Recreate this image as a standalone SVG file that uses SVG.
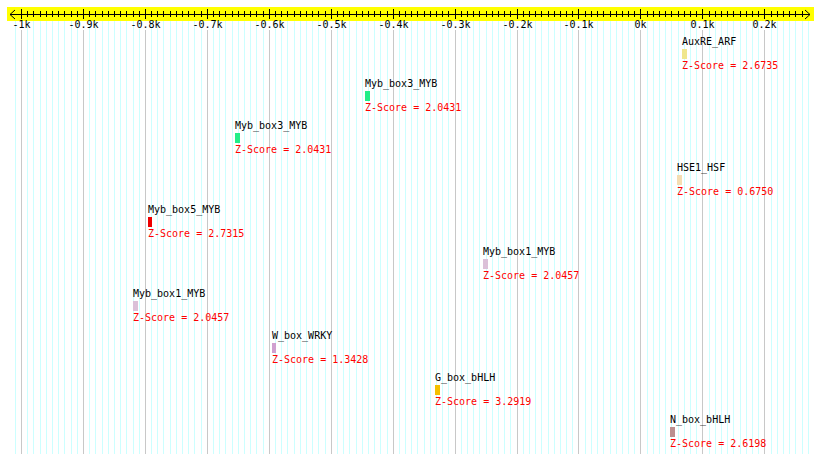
<svg xmlns="http://www.w3.org/2000/svg" width="820" height="463" viewBox="0 0 820 463">
<style>
text{font-family:"DejaVu Sans Mono","Liberation Mono",monospace;font-size:10px}
.name{fill:#000}
.z{fill:#ff0000}
.ax{fill:#000;text-anchor:middle}
.minor{stroke:#ccffff;stroke-width:1;fill:none}
.major{stroke:#c8c8c8;stroke-width:1;fill:none}
.tk{stroke:#000;stroke-width:1;fill:none}
</style>
<rect width="820" height="463" fill="#fff"/>
<g id="grid">
<path class="minor" d="M15.5 21v433M27.5 21v433M33.5 21v433M40.5 21v433M46.5 21v433M52.5 21v433M58.5 21v433M64.5 21v433M71.5 21v433M77.5 21v433M89.5 21v433M95.5 21v433M102.5 21v433M108.5 21v433M114.5 21v433M120.5 21v433M126.5 21v433M133.5 21v433M139.5 21v433M151.5 21v433M157.5 21v433M163.5 21v433M170.5 21v433M176.5 21v433M182.5 21v433M188.5 21v433M194.5 21v433M201.5 21v433M213.5 21v433M219.5 21v433M225.5 21v433M232.5 21v433M238.5 21v433M244.5 21v433M250.5 21v433M256.5 21v433M263.5 21v433M275.5 21v433M281.5 21v433M287.5 21v433M294.5 21v433M300.5 21v433M306.5 21v433M312.5 21v433M318.5 21v433M325.5 21v433M337.5 21v433M343.5 21v433M349.5 21v433M356.5 21v433M362.5 21v433M368.5 21v433M374.5 21v433M380.5 21v433M387.5 21v433M399.5 21v433M405.5 21v433M411.5 21v433M417.5 21v433M424.5 21v433M430.5 21v433M436.5 21v433M442.5 21v433M448.5 21v433M461.5 21v433M467.5 21v433M473.5 21v433M479.5 21v433M486.5 21v433M492.5 21v433M498.5 21v433M504.5 21v433M510.5 21v433M523.5 21v433M529.5 21v433M535.5 21v433M541.5 21v433M548.5 21v433M554.5 21v433M560.5 21v433M566.5 21v433M572.5 21v433M585.5 21v433M591.5 21v433M597.5 21v433M603.5 21v433M610.5 21v433M616.5 21v433M622.5 21v433M628.5 21v433M634.5 21v433M647.5 21v433M653.5 21v433M659.5 21v433M665.5 21v433M671.5 21v433M678.5 21v433M684.5 21v433M690.5 21v433M696.5 21v433M709.5 21v433M715.5 21v433M721.5 21v433M727.5 21v433M733.5 21v433M740.5 21v433M746.5 21v433M752.5 21v433M758.5 21v433M771.5 21v433M777.5 21v433M783.5 21v433M789.5 21v433M795.5 21v433M802.5 21v433M808.5 21v433"/>
<path class="major" d="M21.5 30v424M83.5 30v424M145.5 30v424M207.5 30v424M269.5 30v424M331.5 30v424M393.5 30v424M455.5 30v424M517.5 30v424M578.5 30v424M640.5 30v424M702.5 30v424M764.5 30v424"/>
</g>
<g id="axis">
<rect x="7" y="7" width="807" height="14" fill="#ffff00"/>
<path class="tk" d="M10 14.5H810M15 10L10 14.5L15 19M805 10L810 14.5L805 19"/>
<path class="tk" d="M27.5 11v6M33.5 11v6M40.5 11v6M46.5 11v6M52.5 11v6M58.5 11v6M64.5 11v6M71.5 11v6M77.5 11v6M89.5 11v6M95.5 11v6M102.5 11v6M108.5 11v6M114.5 11v6M120.5 11v6M126.5 11v6M133.5 11v6M139.5 11v6M151.5 11v6M157.5 11v6M163.5 11v6M170.5 11v6M176.5 11v6M182.5 11v6M188.5 11v6M194.5 11v6M201.5 11v6M213.5 11v6M219.5 11v6M225.5 11v6M232.5 11v6M238.5 11v6M244.5 11v6M250.5 11v6M256.5 11v6M263.5 11v6M275.5 11v6M281.5 11v6M287.5 11v6M294.5 11v6M300.5 11v6M306.5 11v6M312.5 11v6M318.5 11v6M325.5 11v6M337.5 11v6M343.5 11v6M349.5 11v6M356.5 11v6M362.5 11v6M368.5 11v6M374.5 11v6M380.5 11v6M387.5 11v6M399.5 11v6M405.5 11v6M411.5 11v6M417.5 11v6M424.5 11v6M430.5 11v6M436.5 11v6M442.5 11v6M448.5 11v6M461.5 11v6M467.5 11v6M473.5 11v6M479.5 11v6M486.5 11v6M492.5 11v6M498.5 11v6M504.5 11v6M510.5 11v6M523.5 11v6M529.5 11v6M535.5 11v6M541.5 11v6M548.5 11v6M554.5 11v6M560.5 11v6M566.5 11v6M572.5 11v6M585.5 11v6M591.5 11v6M597.5 11v6M603.5 11v6M610.5 11v6M616.5 11v6M622.5 11v6M628.5 11v6M634.5 11v6M647.5 11v6M653.5 11v6M659.5 11v6M665.5 11v6M671.5 11v6M678.5 11v6M684.5 11v6M690.5 11v6M696.5 11v6M709.5 11v6M715.5 11v6M721.5 11v6M727.5 11v6M733.5 11v6M740.5 11v6M746.5 11v6M752.5 11v6M758.5 11v6M771.5 11v6M777.5 11v6M783.5 11v6M789.5 11v6M795.5 11v6M802.5 11v6"/>
<path class="tk" d="M21.5 9v10M83.5 9v10M145.5 9v10M207.5 9v10M269.5 9v10M331.5 9v10M393.5 9v10M455.5 9v10M517.5 9v10M578.5 9v10M640.5 9v10M702.5 9v10M764.5 9v10"/>
<text class="ax" x="21.5" y="28">-1k</text>
<text class="ax" x="83.5" y="28">-0.9k</text>
<text class="ax" x="145.5" y="28">-0.8k</text>
<text class="ax" x="207.5" y="28">-0.7k</text>
<text class="ax" x="269.5" y="28">-0.6k</text>
<text class="ax" x="331.5" y="28">-0.5k</text>
<text class="ax" x="393.5" y="28">-0.4k</text>
<text class="ax" x="455.5" y="28">-0.3k</text>
<text class="ax" x="517.5" y="28">-0.2k</text>
<text class="ax" x="578.5" y="28">-0.1k</text>
<text class="ax" x="640.5" y="28">0k</text>
<text class="ax" x="702.5" y="28">0.1k</text>
<text class="ax" x="764.5" y="28">0.2k</text>
</g>
<g id="connectors"></g>
<g id="n1"><text class="name" x="682" y="45">AuxRE_ARF</text><rect x="682" y="49" width="5" height="10" fill="#f0e68c"/><text class="z" x="682" y="69">Z-Score = 2.6735</text></g>
<g id="n2"><text class="name" x="365" y="87">Myb_box3_MYB</text><rect x="365" y="91" width="5" height="10" fill="#22ee88"/><text class="z" x="365" y="111">Z-Score = 2.0431</text></g>
<g id="n3"><text class="name" x="235" y="129">Myb_box3_MYB</text><rect x="235" y="133" width="5" height="10" fill="#22ee88"/><text class="z" x="235" y="153">Z-Score = 2.0431</text></g>
<g id="n4"><text class="name" x="677" y="171">HSE1_HSF</text><rect x="677" y="175" width="5" height="10" fill="#f5deb3"/><text class="z" x="677" y="195">Z-Score = 0.6750</text></g>
<g id="n5"><text class="name" x="148" y="213">Myb_box5_MYB</text><rect x="148" y="217" width="4" height="10" fill="#ee0000"/><text class="z" x="148" y="237">Z-Score = 2.7315</text></g>
<g id="n6"><text class="name" x="483" y="255">Myb_box1_MYB</text><rect x="483" y="259" width="5" height="10" fill="#dcc0d8"/><text class="z" x="483" y="279">Z-Score = 2.0457</text></g>
<g id="n7"><text class="name" x="133" y="297">Myb_box1_MYB</text><rect x="133" y="301" width="5" height="10" fill="#dcc0d8"/><text class="z" x="133" y="321">Z-Score = 2.0457</text></g>
<g id="n8"><text class="name" x="272" y="339">W_box_WRKY</text><rect x="272" y="343" width="4" height="10" fill="#d0a0d0"/><text class="z" x="272" y="363">Z-Score = 1.3428</text></g>
<g id="n9"><text class="name" x="435" y="381">G_box_bHLH</text><rect x="435" y="385" width="5" height="10" fill="#f5c000"/><text class="z" x="435" y="405">Z-Score = 3.2919</text></g>
<g id="n10"><text class="name" x="670" y="423">N_box_bHLH</text><rect x="670" y="427" width="5" height="10" fill="#bc8f8f"/><text class="z" x="670" y="447">Z-Score = 2.6198</text></g>
</svg>
